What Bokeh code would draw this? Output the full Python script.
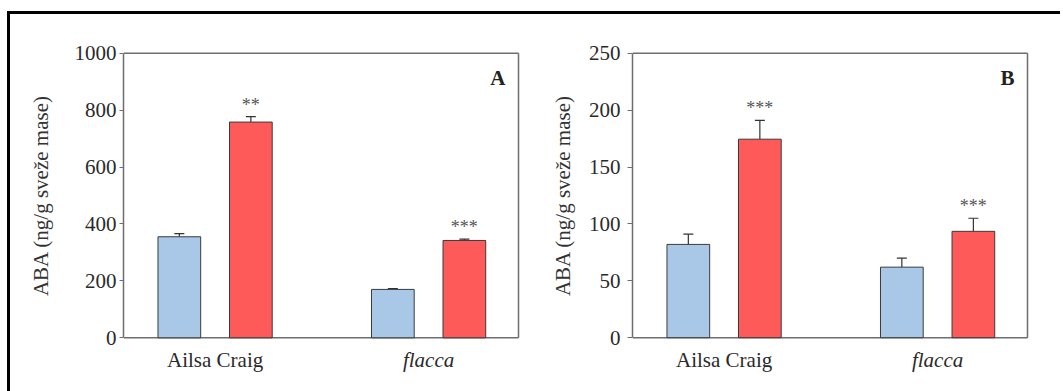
from bokeh.plotting import figure
from bokeh.layouts import row
from bokeh.models import ColumnDataSource, FixedTicker, Whisker, TeeHead, Range1d, Label
from bokeh.core.properties import value
from bokeh.embed import file_html
from bokeh.resources import INLINE

# ---- data ----
groups = ["Ailsa Craig", "flacca"]
group_styles = ["normal", "italic"]
series = ["control", "treated"]
a_control = [355, 170]
a_control_err = [11, 3]
a_treated = [758, 342]
a_treated_err = [19, 5]
a_stars = ["**", "***"]

b_control = [82, 62]
b_control_err = [9, 8]
b_treated = [174.5, 93.5]
b_treated_err = [16.5, 11.5]
b_stars = ["***", "***"]

a_yticks = [0, 200, 400, 600, 800, 1000]
b_yticks = [0, 50, 100, 150, 200, 250]

BLUE = "#a9c8e8"
RED = "#ff5a5a"
SERIF = "Liberation Serif"
AXIS = "#6e6e6e"
group_pos = [1, 3]
offset = 0.67
bar_w = 0.40
X0, X1 = 0.142, 3.842
FRAME_W = 395
PAD = 36          # symmetric padding (px) of the frame above/below the data area
RIGHT_PAD = 2


def panel(ctrl, ctrl_err, trt, trt_err, stars, yticks, ymax, letter, star_pad,
          width, left, right, top, plot_h, tick_out, tick_standoff, label_standoff):
    unit = ymax / plot_h
    xunit = (X1 - X0) / FRAME_W
    y0 = -PAD * unit
    y1 = ymax + PAD * unit
    frame_h = plot_h + 2 * PAD
    m_top = top - PAD
    m_bottom = 377 - m_top - frame_h
    p = figure(width=width, height=377, output_backend="svg", toolbar_location=None,
               x_range=Range1d(X0, X1 + RIGHT_PAD * xunit), y_range=Range1d(y0, y1),
               min_border_left=left, min_border_right=right - RIGHT_PAD,
               min_border_top=m_top, min_border_bottom=m_bottom)
    p.grid.visible = False
    p.outline_line_color = None
    p.background_fill_color = "white"
    p.border_fill_color = "white"

    # frame box: bottom (x-axis line), top and right edges
    p.segment(x0=[X0, X0, X1], y0=[0, ymax, 0], x1=[X1, X1, X1], y1=[0, ymax, ymax],
              line_color=AXIS, line_width=1.5)

    xc = [g - offset / 2 for g in group_pos]
    xt = [g + offset / 2 for g in group_pos]
    src_c = ColumnDataSource(dict(x=xc, top=ctrl, up=[v + e for v, e in zip(ctrl, ctrl_err)]))
    src_t = ColumnDataSource(dict(x=xt, top=trt, up=[v + e for v, e in zip(trt, trt_err)],
                                  star=stars,
                                  sy=[v + e + star_pad for v, e in zip(trt, trt_err)]))
    for src in (src_c, src_t):
        w = Whisker(base="x", lower="top", upper="up", source=src,
                    line_color="#333333", line_width=1.2,
                    upper_head=TeeHead(size=10, line_color="#333333", line_width=1.2),
                    lower_head=None)
        p.add_layout(w)
    p.vbar(x="x", top="top", width=bar_w, source=src_c, fill_color=BLUE,
           line_color="#3a3a3a", line_width=1)
    p.vbar(x="x", top="top", width=bar_w, source=src_t, fill_color=RED,
           line_color="#3a3a3a", line_width=1)
    p.text(x="x", y="sy", text="star", source=src_t, text_align="center",
           text_baseline="bottom", text_font=value(SERIF), text_font_size="18px",
           text_color="#555555")

    # category labels (so that "flacca" can be italic)
    src_g = ColumnDataSource(dict(x=group_pos, y=[0] * len(group_pos), text=groups,
                                  style=group_styles))
    p.text(x="x", y="y", text="text", source=src_g, text_font_style="style",
           text_font=value(SERIF), text_font_size="21px", text_color="#2a2a2a",
           text_align="center", text_baseline="top", y_offset=10)

    # y axis
    yax = p.yaxis[0]
    yax.bounds = (0, ymax)
    yax.ticker = FixedTicker(ticks=yticks)
    yax.axis_label = "ABA (ng/g sveže mase)"
    yax.axis_label_text_font = SERIF
    yax.axis_label_text_font_style = "normal"
    yax.axis_label_text_font_size = "21px"
    yax.axis_label_text_color = "#333333"
    yax.axis_label_standoff = label_standoff
    yax.major_label_text_font = SERIF
    yax.major_label_text_font_size = "21px"
    yax.major_label_text_color = "#2a2a2a"
    yax.major_label_standoff = tick_standoff
    yax.major_tick_in = 0
    yax.major_tick_out = tick_out
    yax.minor_tick_in = 0
    yax.minor_tick_out = 0
    yax.axis_line_color = AXIS
    yax.major_tick_line_color = AXIS
    yax.axis_line_width = 1.5

    p.xaxis.visible = False

    p.add_layout(Label(x=X1, y=ymax, x_offset=-13, y_offset=-13,
                       text=letter, text_font=SERIF, text_font_size="21px",
                       text_font_style="bold", text_align="right", text_baseline="top",
                       text_color="#222222"))
    return p


pA = panel(a_control, a_control_err, a_treated, a_treated_err, a_stars, a_yticks, 1000, "A",
           6, width=530, left=113, right=22, top=39, plot_h=287,
           tick_out=4, tick_standoff=3, label_standoff=19)
pB = panel(b_control, b_control_err, b_treated, b_treated_err, b_stars, b_yticks, 250, "B",
           2, width=520, left=92, right=33, top=37, plot_h=286,
           tick_out=5, tick_standoff=7, label_standoff=11)

layout = row(pA, pB, margin=(11, 0, 0, 7),
             styles={"border-top": "3px solid black", "border-left": "3px solid black"})

open("out.html", "w").write(file_html(layout, INLINE))
